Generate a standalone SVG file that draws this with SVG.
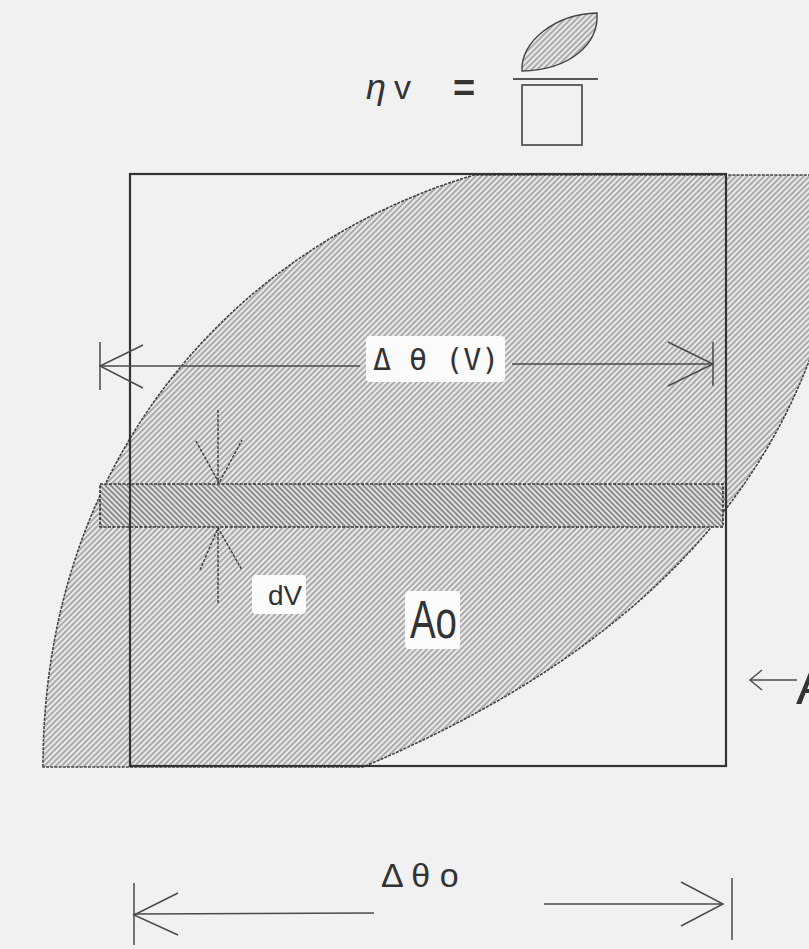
<svg xmlns="http://www.w3.org/2000/svg" width="809" height="949" viewBox="0 0 809 949">
<style>
.bg{fill:#f1f1f1}
.lens{fill:url(#hatch);stroke:#444;stroke-width:1.6;stroke-dasharray:3 1.2}
.strip{fill:url(#hatch2);stroke:#333;stroke-width:1.6;stroke-dasharray:3 1.5}
.sq{fill:none;stroke:#333;stroke-width:2.2}
.dim{fill:none;stroke:#4a4a4a;stroke-width:1.5}
.dimd{fill:none;stroke:#444;stroke-width:1.5;stroke-dasharray:3 1.5}
.lbl{fill:#fbfbfb}
.t{font-family:"Liberation Sans",Arial,sans-serif;fill:#333}
.m{font-family:"DejaVu Sans Mono","Liberation Mono",monospace;fill:#333}
</style>
<defs>
<pattern id="hatch" patternUnits="userSpaceOnUse" width="4" height="4" patternTransform="rotate(45)">
<rect width="4" height="4" fill="#e9e9e9"/>
<line x1="1" y1="0" x2="1" y2="4" stroke="#8a8a8a" stroke-width="1.3"/>
</pattern>
<pattern id="hatch2" patternUnits="userSpaceOnUse" width="3.8" height="3.8" patternTransform="rotate(-45)">
<rect width="3.8" height="3.8" fill="#e2e2e2"/>
<line x1="1" y1="0" x2="1" y2="3.8" stroke="#6c6c6c" stroke-width="1.4"/>
</pattern>
</defs>
<rect class="bg" x="0" y="0" width="809" height="949"/>

<g id="formula">
<text class="t" x="366" y="99" font-size="36" font-style="italic">η</text>
<text class="t" x="394" y="99" font-size="34">v</text>
<text class="t" x="453" y="101" font-size="38" font-weight="bold">=</text>
<path class="lens" d="M522,71 C520,42 555,14 597,13 C599,44 570,70 522,71 Z" style="stroke-dasharray:none;stroke-width:1.4"/>
<line x1="513" y1="79" x2="598" y2="79" stroke="#555" stroke-width="1.8"/>
<rect x="522" y="85" width="60" height="60" fill="none" stroke="#555" stroke-width="1.8"/>
</g>

<g id="lens">
<path class="lens" d="M43,767 C43,468 224,250 474,175 L850,175 C830,420 700,625 363,767 Z"/>
</g>

<g id="strip">
<rect class="strip" x="100" y="484" width="623" height="43"/>
</g>

<g id="square">
<rect class="sq" x="130" y="174" width="596" height="592"/>
</g>

<g id="connectors">
<line class="dim" x1="100" y1="342" x2="100" y2="390"/>
<polyline class="dim" points="143,345 100,366 143,388"/>
<line class="dim" x1="100" y1="366" x2="360" y2="366"/>
<line class="dim" x1="512" y1="364" x2="713" y2="364"/>
<polyline class="dim" points="668,342 713,364 668,386"/>
<line class="dim" x1="713" y1="342" x2="713" y2="386"/>
<line class="dimd" x1="218" y1="410" x2="218" y2="483"/>
<polyline class="dimd" points="196,441 219,483 242,440"/>
<line class="dimd" x1="218" y1="528" x2="218" y2="603"/>
<polyline class="dimd" points="200,570 218,528 242,570"/>
<line class="dim" x1="134" y1="883" x2="134" y2="945"/>
<polyline class="dim" points="178,893 134,915 178,935"/>
<line class="dim" x1="134" y1="914" x2="374" y2="913"/>
<line class="dim" x1="544" y1="904" x2="723" y2="904"/>
<polyline class="dim" points="681,882 723,904 681,926"/>
<line class="dim" x1="732" y1="878" x2="732" y2="940"/>
<line class="dim" x1="750" y1="680" x2="797" y2="680"/>
<polyline class="dim" points="762,670 750,680 762,690"/>
</g>

<g id="labels">
<rect class="lbl" x="366" y="336" width="139" height="46" rx="4"/>
<text class="m" x="373" y="370" font-size="30">Δ θ (V)</text>
<rect class="lbl" x="252" y="575" width="54" height="39" rx="4"/>
<text class="t" x="268" y="605" font-size="28">dV</text>
<rect class="lbl" x="405" y="591" width="55" height="58" rx="4"/>
<text class="t" x="410" y="638" font-size="54" textLength="47" lengthAdjust="spacingAndGlyphs">Ao</text>
<text class="t" x="381" y="887" font-size="34">Δ θ o</text>
<text class="t" x="796" y="704" font-size="54">A</text>
</g>
</svg>
